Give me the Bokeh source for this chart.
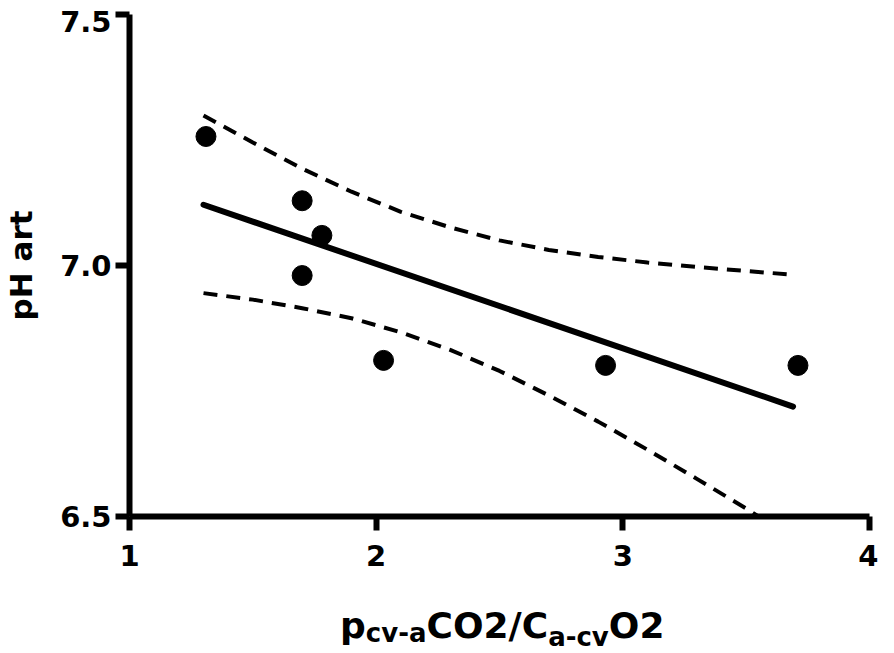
from bokeh.plotting import figure
from bokeh.models import Range1d, FixedTicker, Div, LinearAxis, CustomJSTickFormatter
from bokeh.layouts import column
from bokeh.embed import file_html
from bokeh.resources import INLINE

# ---- data ----
x_pts = [1.31, 1.70, 1.78, 1.70, 2.03, 2.93, 3.71]
y_pts = [7.257, 7.129, 7.060, 6.980, 6.811, 6.801, 6.801]

fit_x = [1.30, 3.69]
fit_y = [7.121, 6.719]

upper_x = [1.30, 1.50, 1.70, 1.90, 2.10, 2.30, 2.50, 2.70, 2.90, 3.10, 3.30, 3.50, 3.68]
upper_y = [7.299, 7.245, 7.193, 7.147, 7.107, 7.076, 7.050, 7.031, 7.017, 7.006, 6.997, 6.989, 6.982]

lower_x = [1.30, 1.50, 1.70, 1.90, 2.10, 2.30, 2.50, 2.70, 2.90, 3.10, 3.30, 3.50, 3.55]
lower_y = [6.945, 6.932, 6.915, 6.895, 6.867, 6.832, 6.790, 6.741, 6.689, 6.633, 6.575, 6.516, 6.500]

x_ticks = [1, 2, 3, 4]
y_ticks = [6.5, 7.0, 7.5]
y_title = "pH art"
# x title pieces: (text, is_subscript, vertical shift in px)
x_title_parts = [("p", False, 0), ("cv-a", True, 4), ("CO2/C", False, 0), ("a-cv", True, 8), ("O2", False, 0)]

FONT = "DejaVu Sans"

p = figure(width=878, height=580, output_backend="svg", toolbar_location=None,
           x_range=Range1d(1, 4), y_range=Range1d(6.5, 7.5),
           min_border_left=123, min_border_right=9, min_border_top=14, min_border_bottom=64)
p.outline_line_color = None
p.grid.visible = False
p.background_fill_color = "white"
p.border_fill_color = "white"

p.xaxis.ticker = FixedTicker(ticks=x_ticks, minor_ticks=[])
p.yaxis.ticker = FixedTicker(ticks=y_ticks, minor_ticks=[])

for ax in (p.xaxis[0], p.yaxis[0]):
    ax.axis_line_width = 6
    ax.axis_line_color = "black"
    ax.major_tick_line_width = 6
    ax.major_tick_line_color = "black"
    ax.major_tick_out = 14
    ax.major_tick_in = 0
    ax.minor_tick_line_color = None
    ax.major_label_text_font = FONT
    ax.major_label_text_font_style = "bold"
    ax.major_label_text_font_size = "29px"
    ax.major_label_text_color = "black"

p.xaxis.major_label_standoff = 14

# main y axis: line and ticks only
p.yaxis.formatter = CustomJSTickFormatter(code="return '';")
p.yaxis.major_label_standoff = 0

# second left axis carrying the tick labels (top label sits just below its tick, as in the reference)
label_ticks = [y_ticks[0], y_ticks[1], y_ticks[2] - 0.014]
ax_lab = LinearAxis(ticker=FixedTicker(ticks=label_ticks, minor_ticks=[]),
                    formatter=CustomJSTickFormatter(code="return tick > 7.4 ? '7.5' : tick.toFixed(1);"),
                    axis_line_color=None, major_tick_line_color=None, minor_tick_line_color=None,
                    major_tick_out=0, major_tick_in=0, major_label_standoff=4,
                    major_label_text_font=FONT, major_label_text_font_style="bold",
                    major_label_text_font_size="29px", major_label_text_color="black",
                    axis_label=y_title, axis_label_text_font=FONT, axis_label_text_font_style="bold",
                    axis_label_text_font_size="31px", axis_label_text_color="black",
                    axis_label_standoff=18)
p.add_layout(ax_lab, "left")

p.line(upper_x, upper_y, line_width=4, line_color="black", line_dash="14 9")
p.line(lower_x, lower_y, line_width=4, line_color="black", line_dash="14 9")
p.line(fit_x, fit_y, line_width=6, line_color="black", line_cap="round")
p.scatter(x_pts, y_pts, size=20, color="black")

# x axis title with subscripts, as real HTML text
pieces = []
for txt, is_sub, shift in x_title_parts:
    if is_sub:
        pieces.append(f'<span style="font-size:26px;position:relative;top:{shift}px;">{txt}</span>')
    else:
        pieces.append(txt)
title_html = (f'<div style="padding-left:340px;padding-top:28px;font-family:\'{FONT}\';'
              'font-weight:bold;font-size:36px;line-height:36px;white-space:nowrap;color:black;">'
              + "".join(pieces) + '</div>')
xtitle = Div(text=title_html, width=878, height=62, margin=0)

layout = column(p, xtitle, spacing=0)
open("out.html", "w").write(file_html(layout, INLINE))
